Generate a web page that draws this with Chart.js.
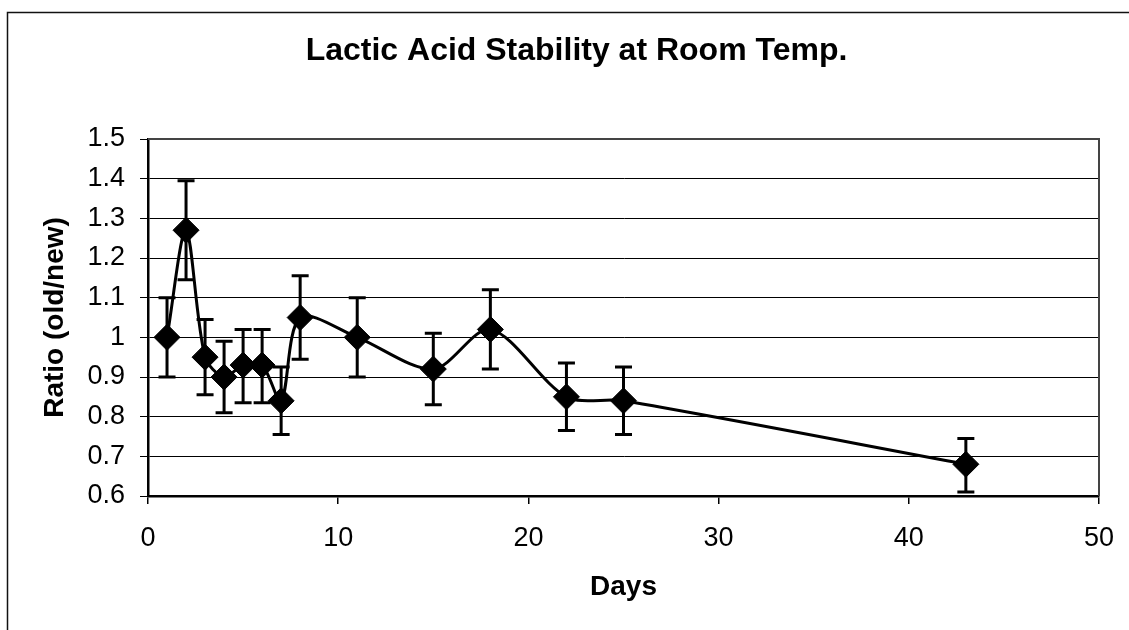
<!DOCTYPE html>
<html>
<head>
<meta charset="utf-8">
<title>Lactic Acid Stability at Room Temp.</title>
<script src="https://cdn.jsdelivr.net/npm/chart.js@4.4.1/dist/chart.umd.min.js"></script>
<style>
  html, body { margin: 0; padding: 0; background: #ffffff; overflow: hidden; }
  #wrap { position: relative; width: 1129px; height: 630px; }
</style>
</head>
<body>
<div id="wrap"><canvas id="chart"></canvas></div>
<script>
// Sampling days and measured ratio (old/new)
const days = [1, 2, 3, 4, 5, 6, 7, 8, 11, 15, 18, 22, 25, 43];
const ratio = [1.00, 1.27, 0.95, 0.90, 0.93, 0.93, 0.84, 1.05, 1.00, 0.92, 1.02, 0.85, 0.84, 0.68];
// Upper and lower ends of each error bar
const errHigh = [1.10, 1.395, 1.045, 0.99, 1.02, 1.02, 0.925, 1.155, 1.10, 1.01, 1.12, 0.935, 0.925, 0.745];
const errLow  = [0.90, 1.145, 0.855, 0.81, 0.835, 0.835, 0.755, 0.945, 0.90, 0.83, 0.92, 0.765, 0.755, 0.61];
// Axis tick labels
const xTickLabels = ['0', '10', '20', '30', '40', '50'];
const yTickLabels = ['0.6', '0.7', '0.8', '0.9', '1', '1.1', '1.2', '1.3', '1.4', '1.5'];

const FONT = "'Liberation Sans', Arial, Helvetica, sans-serif";

// Outer frame of the chart and the plot-area border
const framePlugin = {
  id: 'frame',
  beforeDraw(chart) {
    const ctx = chart.ctx;
    ctx.save();
    ctx.strokeStyle = '#111';
    ctx.lineWidth = 1.5;
    ctx.strokeRect(7.5, 12.5, 1300, 800);
    ctx.restore();
  },
  beforeDatasetsDraw(chart) {
    const {ctx, chartArea: a} = chart;
    ctx.save();
    ctx.strokeStyle = '#444';
    ctx.lineWidth = 2;
    ctx.beginPath();
    ctx.moveTo(a.left, a.top);
    ctx.lineTo(a.right, a.top);
    ctx.lineTo(a.right, a.bottom);
    ctx.stroke();
    ctx.restore();
  }
};

// Vertical error bars with caps, drawn under the line and markers
const errorBarPlugin = {
  id: 'errorBars',
  beforeDatasetsDraw(chart) {
    const {ctx, scales: {x, y}} = chart;
    const cap = 8.5;
    ctx.save();
    ctx.strokeStyle = '#000';
    ctx.lineWidth = 3;
    ctx.lineCap = 'butt';
    days.forEach((d, i) => {
      const px = x.getPixelForValue(d);
      const yt = y.getPixelForValue(errHigh[i]);
      const yb = y.getPixelForValue(errLow[i]);
      ctx.beginPath();
      ctx.moveTo(px, yt);
      ctx.lineTo(px, yb);
      ctx.moveTo(px - cap, yt);
      ctx.lineTo(px + cap, yt);
      ctx.moveTo(px - cap, yb);
      ctx.lineTo(px + cap, yb);
      ctx.stroke();
    });
    ctx.restore();
  }
};

new Chart(document.getElementById('chart'), {
  type: 'line',
  data: {
    datasets: [{
      label: 'Ratio',
      data: days.map((d, i) => ({x: d, y: ratio[i]})),
      borderColor: '#000',
      borderWidth: 3,
      tension: 0.3,
      pointStyle: 'rectRot',
      pointRadius: 13,
      pointHoverRadius: 13,
      pointBackgroundColor: '#000',
      pointBorderColor: '#000',
      pointBorderWidth: 1,
      fill: false
    }]
  },
  options: {
    responsive: true,
    maintainAspectRatio: false,
    animation: false,
    events: [],
    layout: { padding: { left: 54, right: 30, top: 0, bottom: 0 } },
    plugins: {
      legend: { display: false },
      tooltip: { enabled: false },
      title: {
        display: true,
        text: 'Lactic Acid Stability at Room Temp.',
        color: '#000',
        font: { family: FONT, size: 32, weight: 'bold', lineHeight: 1.2 },
        padding: { top: 32, bottom: 68.6 }
      }
    },
    scales: {
      x: {
        type: 'linear',
        min: 0,
        max: 50,
        afterBuildTicks(scale) {
          scale.ticks = xTickLabels.map(v => ({value: Number(v)}));
        },
        ticks: {
          color: '#000',
          font: { family: FONT, size: 27 },
          padding: 18,
          maxRotation: 0,
          callback: (v, i) => xTickLabels[i]
        },
        grid: { drawOnChartArea: false, drawTicks: true, tickLength: 8, color: '#000', lineWidth: 1.5 },
        border: { display: true, color: '#000', width: 2.5 },
        title: {
          display: true,
          text: 'Days',
          color: '#000',
          font: { family: FONT, size: 28, weight: 'bold', lineHeight: 1.2 },
          padding: { top: 0, bottom: 26 }
        },
        afterFit(scale) {
          scale.height = 134;
          scale.paddingLeft = 0;
          scale.paddingRight = 0;
        }
      },
      y: {
        type: 'linear',
        min: 0.6,
        max: 1.5,
        afterBuildTicks(scale) {
          scale.ticks = yTickLabels.map(v => ({value: Number(v)}));
        },
        ticks: {
          color: '#000',
          font: { family: FONT, size: 27 },
          padding: 15,
          callback: (v, i) => yTickLabels[i]
        },
        grid: { drawOnChartArea: true, drawTicks: true, tickLength: 8, color: '#000', lineWidth: 1 },
        border: { display: true, color: '#000', width: 2.5 },
        title: {
          display: true,
          text: 'Ratio (old/new)',
          color: '#000',
          font: { family: FONT, size: 28, weight: 'bold', lineHeight: 1.2 },
          padding: { top: -15.5, bottom: 0 }
        },
        afterFit(scale) {
          scale.width = 94;
          scale.paddingTop = 0;
          scale.paddingBottom = 0;
        }
      }
    }
  },
  plugins: [framePlugin, errorBarPlugin]
});
</script>
</body>
</html>
